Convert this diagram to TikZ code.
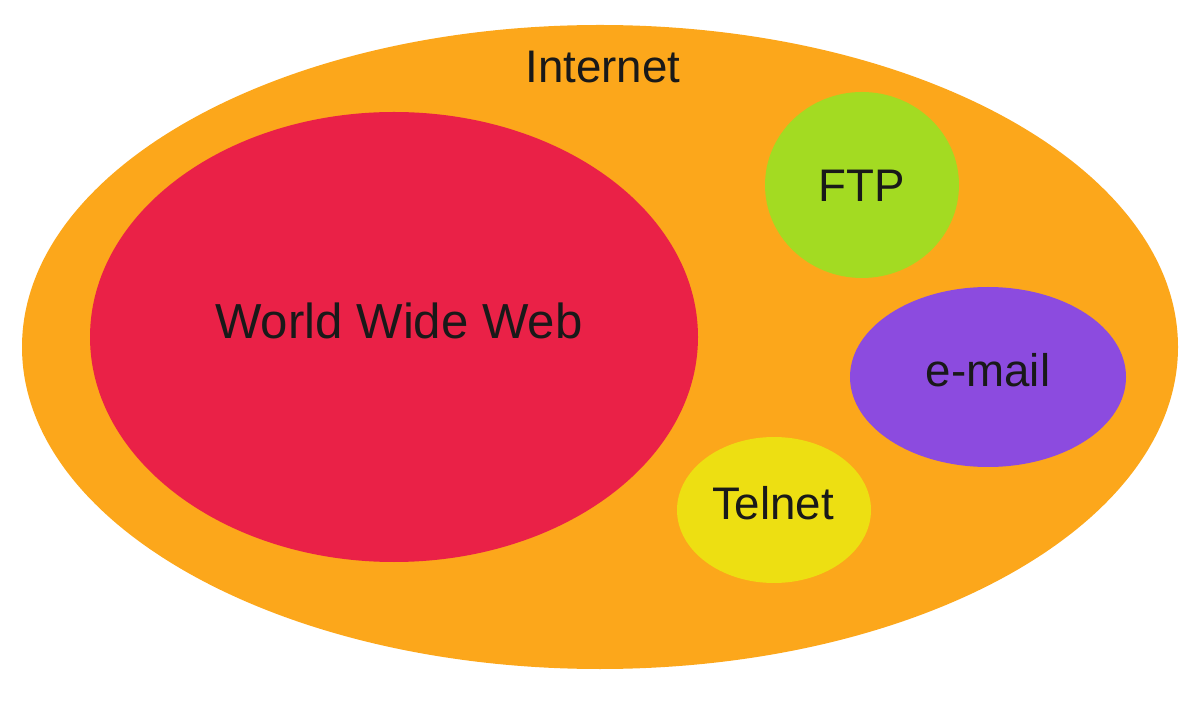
\documentclass[tikz,border=0pt]{standalone}
\usepackage{fontspec}
\setmainfont{Liberation Sans}
\definecolor{netorange}{HTML}{FCA71B}
\definecolor{webred}{HTML}{EA2147}
\definecolor{ftpgreen}{HTML}{A3DB22}
\definecolor{mailpurple}{HTML}{8C4BDF}
\definecolor{telyellow}{HTML}{EDDF12}
\tikzset{label/.style={font=\fontsize{26}{30}\selectfont,text=black!90}}

\begin{document}
\begin{tikzpicture}[x=0.02cm,y=-0.02cm]
      \useasboundingbox (0,0) rectangle (1200,712);

      \fill[netorange] (600,347) ellipse (578 and 322);
      \node[label] (internet) at (603,67) {Internet};

      \fill[webred] (394,337) ellipse (304 and 225);
      \node[label,font=\fontsize{28}{32}\selectfont] (www) at (399,321) {World Wide Web};

      \fill[ftpgreen] (862,185) ellipse (97 and 93);
      \node[label] (ftp) at (862,186) {FTP};

      \fill[mailpurple] (988,377) ellipse (138 and 90);
      \node[label] (email) at (988,370) {e-mail};

      \fill[telyellow] (774,510) ellipse (97 and 73);
      \node[label] (telnet) at (773,503) {Telnet};
    \end{tikzpicture}
\end{document}
